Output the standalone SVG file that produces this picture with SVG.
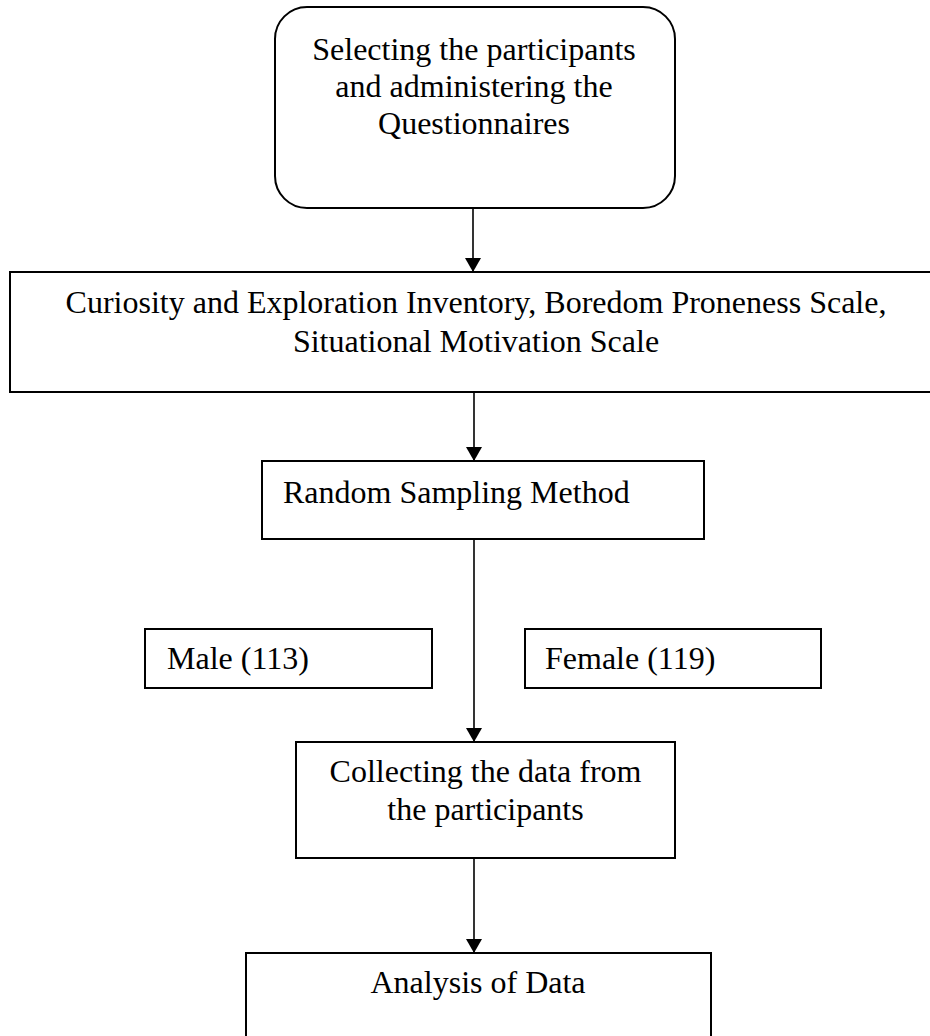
<svg xmlns="http://www.w3.org/2000/svg" width="930" height="1036" viewBox="0 0 930 1036">
  <defs>
    <marker id="arrow" viewBox="0 0 14 16" markerWidth="14" markerHeight="16" refX="14" refY="8" orient="auto" markerUnits="userSpaceOnUse">
      <path d="M0,0 L14,8 L0,16 z" fill="#000"/>
    </marker>
    <style>
      .box { fill: #fff; stroke: #000; stroke-width: 2; }
      .lbl { font-family: "Liberation Serif", "Times New Roman", serif; font-size: 32px; fill: #000; }
      .mid { text-anchor: middle; }
      .conn { stroke: #000; stroke-width: 1.6; fill: none; marker-end: url(#arrow); }
      .plain { stroke: #000; stroke-width: 1.6; fill: none; }
    </style>
  </defs>
  <rect width="930" height="1036" fill="#fff"/>

  <g id="connectors">
    <line class="conn" x1="473" y1="208" x2="473" y2="272"/>
    <line class="conn" x1="474" y1="392" x2="474" y2="461"/>
    <line class="conn" x1="474" y1="539" x2="474" y2="742"/>
    <line class="conn" x1="474" y1="858" x2="474" y2="953"/>
  </g>

  <g id="node-select">
    <rect class="box" x="275" y="7" width="400" height="201" rx="32" ry="32"/>
    <text class="lbl mid" x="474" y="60">Selecting the participants</text>
    <text class="lbl mid" x="474" y="97">and administering the</text>
    <text class="lbl mid" x="474" y="134">Questionnaires</text>
  </g>

  <g id="node-instruments">
    <rect class="box" x="10" y="272" width="930" height="120"/>
    <text class="lbl mid" x="476" y="313">Curiosity and Exploration Inventory, Boredom Proneness Scale,</text>
    <text class="lbl mid" x="476" y="352">Situational Motivation Scale</text>
  </g>

  <g id="node-random">
    <rect class="box" x="262" y="461" width="442" height="78"/>
    <text class="lbl" x="283" y="503">Random Sampling Method</text>
  </g>

  <g id="node-male">
    <rect class="box" x="145" y="629" width="287" height="59"/>
    <text class="lbl" x="167" y="669">Male (113)</text>
  </g>

  <g id="node-female">
    <rect class="box" x="525" y="629" width="296" height="59"/>
    <text class="lbl" x="545" y="669">Female (119)</text>
  </g>

  <g id="node-collect">
    <rect class="box" x="296" y="742" width="379" height="116"/>
    <text class="lbl mid" x="485.5" y="782">Collecting the data from</text>
    <text class="lbl mid" x="485.5" y="820">the participants</text>
  </g>

  <g id="node-analysis">
    <rect class="box" x="246" y="953" width="465" height="90"/>
    <text class="lbl mid" x="478" y="993">Analysis of Data</text>
  </g>
</svg>
